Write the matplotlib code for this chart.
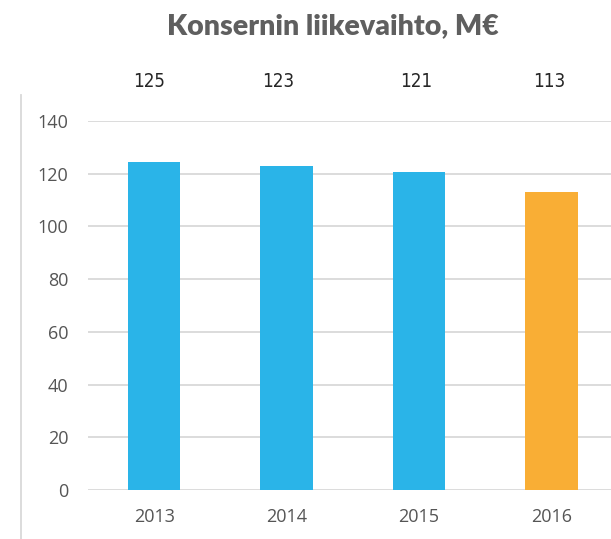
import matplotlib.pyplot as plt
from matplotlib.lines import Line2D

years = ['2013', '2014', '2015', '2016']
revenue = [124.6, 122.9, 120.8, 113.2]
value_labels = ['125', '123', '121', '113']
bar_colors = ['#2AB4E8', '#2AB4E8', '#2AB4E8', '#F9AE35']
yticks = [0, 20, 40, 60, 80, 100, 120, 140]

W, H = 611, 539
fig = plt.figure(figsize=(W / 100, H / 100), dpi=100)

# plot area in pixels: left 88, right edge of figure, y=0 at 490, y=140 at 121
ax = fig.add_axes([88 / W, (H - 490) / H, (W - 88) / W, (490 - 121) / H])
x = range(len(years))
ax.bar(x, revenue, width=0.395, color=bar_colors, zorder=2)
ax.set_xlim(-0.5, 3.45)
ax.set_ylim(0, 140)
ax.set_yticks(yticks)
ax.set_xticks(list(x))
ax.set_xticklabels(years)
ax.grid(axis='y', color='#D9D9D9', linewidth=1.3, zorder=0)
for s in ax.spines.values():
    s.set_visible(False)
ax.tick_params(length=0, labelsize=13, labelcolor='#555555', pad=14)
ax.tick_params(axis='x', pad=13)
for lab in ax.get_xticklabels() + ax.get_yticklabels():
    lab.set_fontfamily(['Open Sans', 'DejaVu Sans'])

# data table row above the chart (slightly left of each bar centre)
label_x = [149, 278, 416, 549]
for px, txt in zip(label_x, value_labels):
    fig.text(px / W, 1 - 81 / H, txt, ha='center', va='center', fontsize=13.5,
             color='#262626', family='DejaVu Sans', fontstretch='condensed')

# left border line of the chart area
fig.add_artist(Line2D([21 / W, 21 / W], [0, 1 - 95 / H], transform=fig.transFigure,
                      color='#D9D9D9', linewidth=1.3))

fig.text(333 / W, 1 - 34 / H, 'Konsernin liikevaihto, M€', ha='center', va='baseline',
         fontsize=20.5, fontweight='heavy', color='#5F5F5F', family=['Lato', 'DejaVu Sans'])

fig.savefig('out.png', dpi=100)
